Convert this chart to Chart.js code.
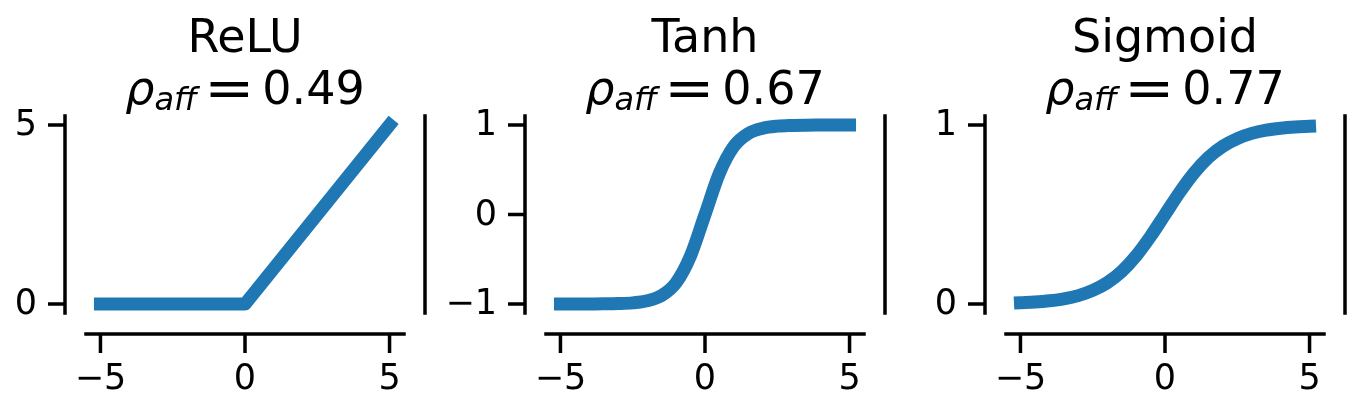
<!DOCTYPE html>
<html>
<head>
<meta charset="utf-8">
<script src="https://cdn.jsdelivr.net/npm/chart.js@4.4.1/dist/chart.umd.min.js"></script>
<style>
  html, body { margin: 0; padding: 0; background: #fff; }
  #wrap { position: relative; width: 1361px; height: 412px; overflow: hidden; }
  canvas { position: absolute; top: 0; }
</style>
</head>
<body>
<div id="wrap">
  <canvas id="c0" width="500" height="412" style="left:-40px"></canvas>
  <canvas id="c1" width="500" height="412" style="left:420px"></canvas>
  <canvas id="c2" width="481" height="412" style="left:880px"></canvas>
</div>
<script>
// data
const xRelu = [-5, 0, 5];
const yRelu = [0, 0, 5];

const xSmooth = [-5, -4.5, -4, -3.5, -3, -2.5, -2, -1.5, -1, -0.5, 0, 0.5, 1, 1.5, 2, 2.5, 3, 3.5, 4, 4.5, 5];
const yTanh = [-1.0, -1.0, -0.999, -0.998, -0.995, -0.987, -0.964, -0.905, -0.762, -0.462, 0, 0.462, 0.762, 0.905, 0.964, 0.987, 0.995, 0.998, 0.999, 1.0, 1.0];
const ySigmoid = [0.007, 0.011, 0.018, 0.029, 0.047, 0.076, 0.119, 0.182, 0.269, 0.378, 0.5, 0.622, 0.731, 0.818, 0.881, 0.924, 0.953, 0.971, 0.982, 0.989, 0.993];

const titles = ['ReLU', 'Tanh', 'Sigmoid'];
const rhoAff = ['0.49', '0.67', '0.77'];
const xTicks = [-5, 0, 5];
const yTicks = [[0, 5], [-1, 0, 1], [0, 1]];
const yRanges = [[-0.25, 5.25], [-1.1, 1.1], [-0.05, 1.05]];

const BLUE = '#1f77b4';
const FONT = '"DejaVu Sans", sans-serif';
const OFFSET = 21;   // despined axes sit away from the plot area
const SPINE_W = 3.5;

function fmt(v) {
  return v < 0 ? '\u2212' + Math.abs(v) : String(v);
}

const axesPlugin = {
  id: 'axesPlugin',
  afterDraw(chart, args, opts) {
    const ctx = chart.ctx;
    const a = chart.chartArea;
    const xs = chart.scales.x, ys = chart.scales.y;
    const leftX = a.left - OFFSET, botY = a.bottom + OFFSET, rightX = a.right + OFFSET;
    ctx.save();
    ctx.strokeStyle = '#000';
    ctx.fillStyle = '#000';
    ctx.lineWidth = SPINE_W;

    // spines
    ctx.lineCap = 'square';
    ctx.beginPath();
    ctx.moveTo(leftX, a.top); ctx.lineTo(leftX, a.bottom);
    ctx.moveTo(rightX, a.top); ctx.lineTo(rightX, a.bottom);
    ctx.moveTo(a.left, botY); ctx.lineTo(a.right, botY);
    ctx.stroke();

    // ticks
    ctx.lineCap = 'butt';
    ctx.beginPath();
    opts.yTicks.forEach(v => {
      const py = ys.getPixelForValue(v);
      ctx.moveTo(leftX - 17, py); ctx.lineTo(leftX, py);
    });
    xTicks.forEach(v => {
      const px = xs.getPixelForValue(v);
      ctx.moveTo(px, botY); ctx.lineTo(px, botY + 19);
    });
    ctx.stroke();

    // tick labels
    ctx.font = '35px ' + FONT;
    ctx.textAlign = 'right';
    ctx.textBaseline = 'middle';
    opts.yTicks.forEach(v => {
      ctx.fillText(fmt(v), leftX - 28, ys.getPixelForValue(v) + 1);
    });
    ctx.textAlign = 'center';
    ctx.textBaseline = 'alphabetic';
    xTicks.forEach(v => {
      ctx.fillText(fmt(v), xs.getPixelForValue(v), 389);
    });

    // title
    const cx = (a.left + a.right) / 2;
    ctx.font = '46px ' + FONT;
    ctx.fillText(opts.title, cx, 52);

    // rho_aff = value
    ctx.textAlign = 'left';
    ctx.font = 'italic 46px ' + FONT;
    const wRho = ctx.measureText('\u03c1').width;
    ctx.font = 'italic 32px ' + FONT;
    const wSub = ctx.measureText('aff').width;
    ctx.font = '46px ' + FONT;
    const eqScale = 1.3;
    const wEq = ctx.measureText('=').width * eqScale;
    const wNum = ctx.measureText(opts.rho).width;
    const g1 = 7, g2 = 8;
    const total = wRho + wSub + g1 + wEq + g2 + wNum;
    let x = cx - total / 2;
    const base = 104;
    ctx.font = 'italic 46px ' + FONT;
    ctx.fillText('\u03c1', x, base);
    x += wRho;
    ctx.font = 'italic 32px ' + FONT;
    ctx.fillText('aff', x, base + 6);
    x += wSub + g1;
    ctx.font = '46px ' + FONT;
    ctx.save();
    ctx.translate(x, base + 2);
    ctx.scale(eqScale, 1.15);
    ctx.fillText('=', 0, 0);
    ctx.restore();
    x += wEq + g2;
    ctx.fillText(opts.rho, x, base);

    ctx.restore();
  }
};

const seriesX = [xRelu, xSmooth, xSmooth];
const seriesY = [yRelu, yTanh, ySigmoid];

for (let i = 0; i < 3; i++) {
  const canvas = document.getElementById('c' + i);
  const pts = seriesX[i].map((x, k) => ({ x: x, y: seriesY[i][k] }));
  new Chart(canvas, {
    type: 'line',
    data: {
      datasets: [{
        data: pts,
        borderColor: BLUE,
        borderWidth: 13,
        borderCapStyle: 'square',
        borderJoinStyle: 'round',
        pointRadius: 0,
        tension: 0,
        cubicInterpolationMode: i === 0 ? 'default' : 'monotone',
        fill: false,
        clip: false
      }]
    },
    options: {
      responsive: false,
      animation: false,
      layout: { padding: { left: 126, right: canvas.width - 444, top: 116, bottom: 412 - 313 } },
      plugins: {
        legend: { display: false },
        tooltip: { enabled: false },
        title: { display: false },
        axesPlugin: { title: titles[i], rho: rhoAff[i], yTicks: yTicks[i] }
      },
      scales: {
        x: { type: 'linear', min: -5.5, max: 5.5, display: false },
        y: { type: 'linear', min: yRanges[i][0], max: yRanges[i][1], display: false }
      }
    },
    plugins: [axesPlugin]
  });
}
</script>
</body>
</html>
